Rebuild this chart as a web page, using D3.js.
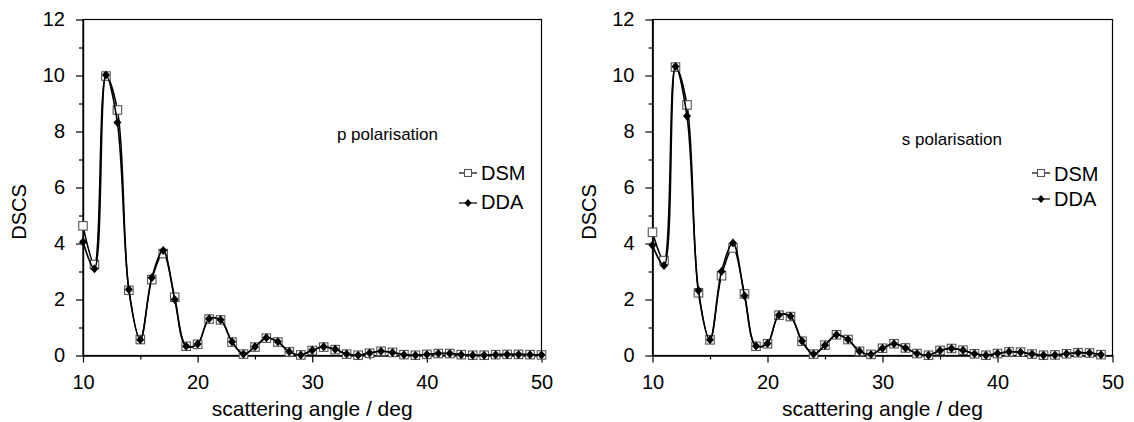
<!DOCTYPE html>
<html>
<head>
<meta charset="utf-8">
<script src="https://cdn.jsdelivr.net/npm/d3@7"></script>
<style>
  body { margin: 0; background: #fff; }
  svg { display: block; font-family: "Liberation Sans", Arial, sans-serif; }
  .axis path, .axis line { stroke: #000; stroke-width: 1.2; }
  .axis text { font-size: 20px; fill: #000; }
</style>
</head>
<body>
<svg width="1134" height="422"></svg>
<script>
// scattering angles (deg)
var anglesP = [10,11,12,13,14,15,16,17,18,19,20,21,22,23,24,25,26,27,28,29,30,
               31,32,33,34,35,36,37,38,39,40,41,42,43,44,45,46,47,48,49,50];
var anglesS = [10,11,12,13,14,15,16,17,18,19,20,21,22,23,24,25,26,27,28,29,30,
               31,32,33,34,35,36,37,38,39,40,41,42,43,44,45,46,47,48,49];

// p polarisation
var pDSM = [4.63,3.25,9.98,8.77,2.33,0.57,2.71,3.64,2.08,0.33,0.40,1.30,1.27,0.48,0.05,0.30,0.62,0.48,0.13,0.02,0.18,
            0.30,0.21,0.05,0.01,0.08,0.15,0.11,0.03,0.01,0.04,0.07,0.07,0.03,0.01,0.01,0.03,0.04,0.04,0.03,0.02];
var pDDA = [4.05,3.10,10.02,8.32,2.36,0.56,2.78,3.75,2.00,0.33,0.41,1.31,1.28,0.49,0.05,0.31,0.63,0.49,0.13,0.02,0.19,
            0.31,0.22,0.05,0.01,0.09,0.15,0.11,0.03,0.01,0.04,0.07,0.07,0.03,0.01,0.01,0.03,0.04,0.04,0.03,0.02];

// s polarisation
var sDSM = [4.40,3.39,10.30,8.95,2.24,0.56,2.85,3.84,2.20,0.33,0.42,1.44,1.39,0.51,0.05,0.37,0.74,0.57,0.15,0.04,0.26,
            0.42,0.27,0.07,0.01,0.18,0.25,0.19,0.06,0.01,0.07,0.13,0.12,0.05,0.01,0.02,0.06,0.10,0.09,0.03];
var sDDA = [3.94,3.21,10.32,8.55,2.32,0.56,3.00,4.02,2.13,0.34,0.43,1.45,1.40,0.52,0.05,0.37,0.74,0.57,0.15,0.04,0.26,
            0.42,0.27,0.07,0.01,0.18,0.25,0.19,0.06,0.01,0.07,0.13,0.12,0.05,0.01,0.02,0.06,0.10,0.09,0.03];

var xMajorTicks = [10,20,30,40,50];
var xMinorTicks = [15,25,35,45];
var yMajorTicks = [0,2,4,6,8,10,12];
var yMinorTicks = [1,3,5,7,9,11];
var seriesNames = ["DSM","DDA"];

var svg = d3.select("svg");

var panels = [
  {x0: 83, x1: 541.5, angles: anglesP, dsm: pDSM, dda: pDDA, label: "p polarisation",
   labelX: 438, labelY: 140, legX: 459, legY: [173, 203], textY: [180, 209]},
  {x0: 652.5, x1: 1112.5, angles: anglesS, dsm: sDSM, dda: sDDA, label: "s polarisation",
   labelX: 1002, labelY: 145, legX: 1032, legY: [173, 199], textY: [181, 206]}
];

var plotTop = 19.5, plotBottom = 355.5;

function squareSym(g, x, y, s) {
  g.append("rect")
    .attr("x", x - s / 2).attr("y", y - s / 2)
    .attr("width", s).attr("height", s)
    .attr("fill", "#fff").attr("stroke", "#555").attr("stroke-width", 1.1);
}
function diamondSym(g, x, y, w, h) {
  g.append("path")
    .attr("d", "M" + x + "," + (y - h / 2) + "L" + (x + w / 2) + "," + y +
               "L" + x + "," + (y + h / 2) + "L" + (x - w / 2) + "," + y + "Z")
    .attr("fill", "#000");
}

panels.forEach(function(p) {
  var xScale = d3.scaleLinear().domain([10, 50]).range([p.x0, p.x1]);
  var yScale = d3.scaleLinear().domain([0, 12]).range([plotBottom, plotTop]);
  var g = svg.append("g");

  // frame
  g.append("rect")
    .attr("x", p.x0).attr("y", plotTop)
    .attr("width", p.x1 - p.x0).attr("height", plotBottom - plotTop)
    .attr("fill", "none").attr("stroke", "#000").attr("stroke-width", 1.2);

  // axes
  g.append("g").attr("class", "axis")
    .attr("transform", "translate(0," + plotBottom + ")")
    .call(d3.axisBottom(xScale).tickValues(xMajorTicks).tickSize(7).tickPadding(12).tickSizeOuter(0));
  g.append("g").attr("class", "axis")
    .attr("transform", "translate(0," + plotBottom + ")")
    .call(d3.axisBottom(xScale).tickValues(xMinorTicks).tickSize(4).tickFormat("").tickSizeOuter(0));
  g.append("g").attr("class", "axis")
    .attr("transform", "translate(" + p.x0 + ",0)")
    .call(d3.axisLeft(yScale).tickValues(yMajorTicks).tickSize(7).tickPadding(11).tickSizeOuter(0));
  g.append("g").attr("class", "axis")
    .attr("transform", "translate(" + p.x0 + ",0)")
    .call(d3.axisLeft(yScale).tickValues(yMinorTicks).tickSize(4).tickFormat("").tickSizeOuter(0));

  // axis titles
  g.append("text")
    .attr("transform", "translate(" + (p.x0 - 57) + ",212) rotate(-90)")
    .attr("text-anchor", "middle").attr("font-size", 20)
    .text("DSCS");
  g.append("text")
    .attr("x", (p.x0 + p.x1) / 2).attr("y", 416)
    .attr("text-anchor", "middle").attr("font-size", 21)
    .text("scattering angle / deg");

  var line = d3.line()
    .x(function(d) { return xScale(d[0]); })
    .y(function(d) { return yScale(d[1]); })
    .curve(d3.curveCatmullRom.alpha(0.5));

  var dsmPts = p.angles.map(function(a, i) { return [a, p.dsm[i]]; });
  var ddaPts = p.angles.map(function(a, i) { return [a, p.dda[i]]; });

  g.append("path").attr("d", line(dsmPts))
    .attr("fill", "none").attr("stroke", "#000").attr("stroke-width", 1.5);
  dsmPts.forEach(function(d) { squareSym(g, xScale(d[0]), yScale(d[1]), 8.5); });

  g.append("path").attr("d", line(ddaPts))
    .attr("fill", "none").attr("stroke", "#000").attr("stroke-width", 1.6);
  ddaPts.forEach(function(d) { diamondSym(g, xScale(d[0]), yScale(d[1]), 8, 9); });

  // annotation
  g.append("text")
    .attr("x", p.labelX).attr("y", p.labelY)
    .attr("text-anchor", "end").attr("font-size", 17)
    .text(p.label);

  // legend
  seriesNames.forEach(function(name, i) {
    var ly = p.legY[i];
    g.append("line")
      .attr("x1", p.legX).attr("x2", p.legX + 18)
      .attr("y1", ly).attr("y2", ly)
      .attr("stroke", "#000").attr("stroke-width", 1.2);
    if (i === 0) squareSym(g, p.legX + 9, ly, 7);
    else diamondSym(g, p.legX + 9, ly, 7, 8);
    g.append("text")
      .attr("x", p.legX + 22).attr("y", p.textY[i])
      .attr("font-size", 20)
      .text(name);
  });
});
</script>
</body>
</html>
